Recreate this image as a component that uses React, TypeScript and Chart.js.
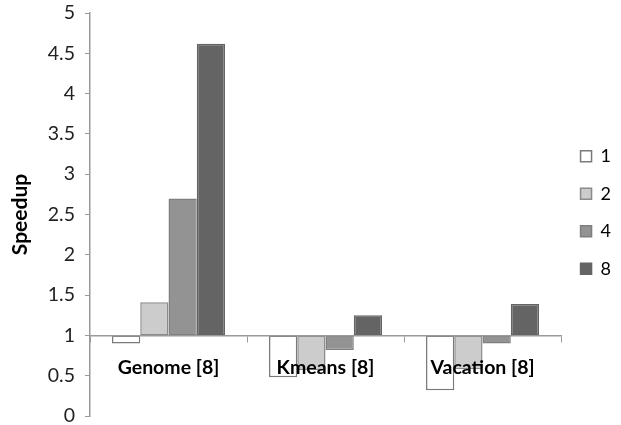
import React, { useEffect, useRef } from "react";
import { Chart, registerables } from "chart.js";

Chart.register(...registerables);

const categories = ["Genome [8]", "Kmeans [8]", "Vacation [8]"];
const seriesLabels = ["1", "2", "4", "8"];
const values1 = [0.9, 0.48, 0.32];
const values2 = [1.41, 0.57, 0.58];
const values4 = [2.7, 0.82, 0.9];
const values8 = [4.62, 1.25, 1.39];
const baseline = 1;
const fills = ["#ffffff", "#cccccc", "#939393", "#646464"];
const borders = ["#7a7a7a", "#8a8a8a", "#7f7f7f", "#646464"];

const FONT = "Lato, 'Open Sans', sans-serif";

export default function App() {
  const ref = useRef<HTMLCanvasElement | null>(null);
  useEffect(() => {
    if (!ref.current) return;
    const all = [values1, values2, values4, values8];
    const chart = new Chart(ref.current, {
      type: "bar",
      data: {
        labels: categories,
        datasets: all.map((vals, i) => ({
          label: seriesLabels[i],
          data: vals.map((v) => [baseline, v] as [number, number]),
          backgroundColor: fills[i],
          borderColor: borders[i],
          borderWidth: 1.5,
          borderSkipped: false,
          categoryPercentage: 0.72,
          barPercentage: 1,
        })),
      },
      options: {
        animation: false,
        responsive: false,
        devicePixelRatio: 1,
        layout: { padding: { top: 0, bottom: 0, right: 0, left: 0 } },
        plugins: {
          legend: {
            position: "right",
            labels: {
              boxWidth: 11,
              boxHeight: 11,
              padding: 19.5,
              color: "#000",
              font: { family: FONT, size: 18 },
            },
          },
          tooltip: { enabled: false },
        },
        scales: {
          x: {
            position: { y: baseline },
            grid: {
              display: true,
              drawOnChartArea: false,
              drawTicks: true,
              tickLength: 6,
              color: "#9a9a9a",
              offset: true,
            },
            border: { display: true, color: "#9a9a9a", width: 1.5, z: 1 },
            ticks: {
              z: 1,
              padding: 15,
              color: "#000",
              font: { family: FONT, size: 19.5, weight: "bold" },
            },
          },
          y: {
            min: 0,
            max: 5,
            afterFit: (s: any) => {
              s.width = 90;
              s.paddingTop = 13;
              s.paddingBottom = 9;
            },
            grid: {
              display: true,
              drawOnChartArea: false,
              drawTicks: true,
              tickLength: 5,
              color: "#9a9a9a",
            },
            border: { display: true, color: "#9a9a9a", width: 1.5 },
            ticks: {
              stepSize: 0.5,
              padding: 10,
              color: "#222",
              font: { family: FONT, size: 19.5 },
              callback: (v: any) => String(v),
            },
            title: {
              display: true,
              text: "Speedup",
              color: "#000",
              padding: { top: 8, bottom: 0 },
              font: { family: FONT, size: 21, weight: "bold" },
            },
          },
        },
      },
    });
    return () => chart.destroy();
  }, []);
  return (
    <div style={{ position: "absolute", left: 0, top: 0, width: 621, height: 425 }}>
      <canvas ref={ref} width={621} height={425} />
    </div>
  );
}
